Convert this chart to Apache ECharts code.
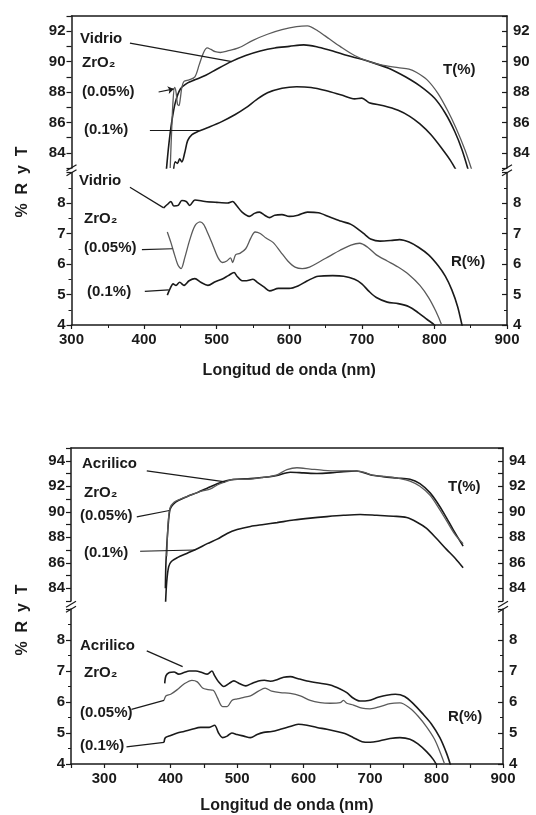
<!DOCTYPE html>
<html>
<head>
<meta charset="utf-8">
<script src="https://cdn.jsdelivr.net/npm/echarts@6/dist/echarts.min.js"></script>
<style>
  html, body { margin: 0; padding: 0; background: #fff; }
  #chart { width: 536px; height: 815px; }
</style>
</head>
<body>
<div id="chart"></div>
<script>
// ---- datos (nm, %) ----
var vidrioT = [[430,82.5],[434,84.5],[438,86.0],[443,87.3],[450,88.2],[460,88.6],[470,88.8],[485,89.1],[500,89.5],[520,90.0],[540,90.4],[560,90.7],[580,90.9],[600,91.0],[620,91.1],[640,90.95],[660,90.7],[680,90.4],[700,90.15],[720,89.85],[740,89.5],[760,89.0],[780,88.4],[800,87.6],[815,86.6],[828,85.4],[838,84.2],[847,82.8]]
var vidrio005T = [[436,83.0],[438,85.5],[440,87.5],[442,88.3],[444,88.0],[446,87.2],[448,87.1],[450,87.6],[452,88.3],[455,88.7],[462,88.8],[470,89.0],[476,89.8],[482,90.6],[487,90.9],[492,90.8],[498,90.65],[505,90.6],[515,90.7],[530,90.9],[550,91.4],[570,91.8],[590,92.1],[610,92.3],[625,92.35],[640,92.0],[655,91.5],[670,91.0],[690,90.4],[710,90.0],[730,89.75],[750,89.6],[765,89.5],[775,89.3],[790,88.8],[805,87.9],[818,86.8],[830,85.6],[842,84.2],[852,82.8]]
var vidrio01T = [[440,82.6],[443,83.4],[446,83.3],[449,83.6],[452,83.4],[456,84.0],[460,84.8],[466,85.2],[474,85.4],[490,85.7],[507,86.05],[525,86.5],[540,86.95],[555,87.5],[570,87.95],[590,88.25],[610,88.35],[630,88.3],[650,88.1],[672,87.8],[690,87.55],[700,87.6],[710,87.3],[730,87.1],[750,86.8],[766,86.4],[780,85.9],[795,85.2],[810,84.3],[822,83.5],[833,82.6]]

var vidrioR = [[427,7.84],[432,7.95],[437,8.05],[441,7.9],[447,7.92],[452,8.08],[458,8.05],[463,7.92],[470,8.1],[484,8.05],[500,8.02],[515,8.0],[522,8.05],[528,7.9],[535,7.7],[545,7.56],[552,7.66],[559,7.7],[566,7.6],[573,7.52],[580,7.6],[590,7.62],[600,7.56],[612,7.6],[625,7.7],[640,7.68],[655,7.55],[672,7.4],[685,7.3],[696,7.12],[705,6.95],[712,6.82],[725,6.75],[740,6.77],[752,6.8],[765,6.72],[778,6.55],[792,6.3],[805,5.95],[815,5.6],[824,5.15],[832,4.6],[838,4.0],[842,3.6]]
var vidrio005R = [[432,7.05],[437,6.7],[442,6.3],[447,5.95],[451,5.85],[456,6.2],[463,6.8],[470,7.25],[477,7.38],[482,7.3],[488,7.0],[495,6.6],[502,6.2],[508,6.05],[514,6.1],[519,6.2],[522,6.05],[526,6.3],[532,6.35],[540,6.5],[547,6.85],[553,7.05],[560,7.0],[568,6.85],[578,6.7],[588,6.4],[598,6.1],[608,5.9],[618,5.85],[628,5.9],[640,6.05],[655,6.25],[670,6.45],[685,6.62],[697,6.68],[708,6.55],[720,6.3],[735,6.1],[750,5.9],[765,5.65],[780,5.3],[792,4.9],[802,4.45],[810,4.0],[814,3.7]]
var vidrio01R = [[432,4.98],[436,5.2],[440,5.35],[444,5.3],[449,5.4],[455,5.3],[462,5.45],[470,5.52],[478,5.4],[488,5.3],[498,5.42],[507,5.5],[516,5.62],[524,5.72],[528,5.6],[535,5.45],[541,5.45],[550,5.5],[556,5.4],[565,5.25],[573,5.12],[585,5.2],[600,5.2],[612,5.28],[625,5.45],[640,5.6],[660,5.62],[675,5.6],[690,5.5],[700,5.35],[710,5.1],[720,4.9],[735,4.75],[750,4.7],[765,4.6],[778,4.4],[790,4.18],[800,4.0],[804,3.85]]

var acrilicoT = [[392,84.0],[393,86.2],[396,88.8],[399,90.2],[404,90.6],[412,90.9],[425,91.2],[440,91.5],[455,91.85],[470,92.2],[485,92.45],[500,92.55],[520,92.6],[540,92.7],[560,92.85],[580,93.1],[600,93.05],[620,93.0],[640,93.05],[660,93.15],[680,93.2],[700,92.9],[720,92.75],[740,92.65],[760,92.55],[775,92.2],[790,91.5],[800,90.8],[812,89.8],[825,88.6],[840,87.3]]
var acrilico005T = [[394,86.5],[396,89.0],[399,90.3],[405,90.75],[415,91.0],[430,91.3],[445,91.6],[460,91.8],[470,92.1],[482,92.35],[495,92.55],[515,92.55],[540,92.7],[560,92.9],[575,93.3],[590,93.45],[610,93.35],[630,93.25],[650,93.2],[670,93.2],[690,93.1],[705,92.85],[725,92.75],[745,92.6],[760,92.4],[775,92.0],[790,91.3],[802,90.4],[815,89.3],[828,88.2],[840,87.5]]
var acrilico01T = [[392,82.5],[394,84.5],[397,85.7],[401,86.1],[410,86.4],[425,86.75],[440,87.1],[455,87.5],[470,87.85],[485,88.3],[500,88.6],[520,88.85],[540,89.0],[560,89.15],[585,89.35],[610,89.5],[635,89.62],[660,89.72],[685,89.78],[710,89.72],[735,89.65],[755,89.55],[770,89.2],[785,88.7],[800,87.9],[815,87.05],[828,86.35],[840,85.6]]

var acrilicoR = [[391,6.6],[393,6.85],[398,6.95],[405,6.97],[412,6.9],[420,6.95],[428,7.0],[438,7.0],[447,6.95],[455,6.9],[462,7.0],[466,6.85],[472,6.65],[480,6.5],[488,6.6],[495,6.68],[503,6.6],[513,6.52],[522,6.6],[532,6.68],[541,6.7],[550,6.67],[560,6.72],[570,6.8],[580,6.82],[592,6.75],[605,6.68],[620,6.62],[640,6.55],[655,6.42],[665,6.3],[675,6.12],[685,6.03],[698,6.05],[712,6.15],[725,6.22],[738,6.25],[752,6.18],[765,5.95],[778,5.65],[792,5.3],[805,4.85],[815,4.35],[822,3.9]]
var acrilico005R = [[390,6.05],[393,6.2],[400,6.25],[410,6.4],[420,6.58],[432,6.7],[440,6.65],[448,6.45],[456,6.4],[464,6.38],[470,6.15],[478,5.85],[485,5.85],[492,6.05],[500,6.1],[510,6.15],[520,6.2],[532,6.35],[542,6.45],[552,6.35],[565,6.3],[580,6.28],[595,6.2],[610,6.05],[625,5.98],[640,5.96],[655,5.98],[660,6.05],[665,5.96],[675,5.9],[688,5.8],[700,5.78],[715,5.85],[730,5.95],[745,5.97],[760,5.8],[772,5.55],[785,5.2],[797,4.8],[806,4.35],[813,3.95]]
var acrilico01R = [[390,4.7],[392,4.85],[400,4.92],[410,5.0],[420,5.05],[432,5.12],[445,5.18],[458,5.18],[466,5.25],[472,5.0],[478,4.85],[485,4.9],[492,5.0],[500,4.95],[510,4.9],[520,4.85],[530,4.95],[540,5.02],[552,5.05],[565,5.12],[578,5.2],[592,5.28],[605,5.25],[620,5.18],[635,5.12],[650,5.05],[662,4.98],[675,4.85],[688,4.72],[700,4.7],[715,4.75],[730,4.82],[745,4.85],[760,4.8],[772,4.65],[785,4.4],[795,4.15],[802,3.9]]

// ejes
var xRange1 = [300, 900]
var xRange2 = [250, 900]
var tRange1 = [83, 93]
var tRange2 = [83, 95]
var rRange = [4, 9]

var FONT = '"Liberation Sans", Arial, Helvetica, sans-serif'
var INK = '#1a1a1a'
var GREY = '#5a5a5a'

// grids: panel superior (T, R) y panel inferior (T, R)
var grids = [
  { left: 71.5, right: 29, top: 16, height: 152 },
  { left: 71.5, right: 29, top: 172.5, height: 152.5 },
  { left: 71, right: 33, top: 448, height: 153 },
  { left: 71, right: 33, top: 609, height: 155 }
]

function topX(gi, range) {
  return {
    type: 'value', gridIndex: gi, position: 'top', min: range[0], max: range[1],
    axisLine: { show: true, lineStyle: { color: INK, width: 1.5 } },
    axisTick: { show: false }, axisLabel: { show: false }, splitLine: { show: false }
  }
}
function bottomX(gi, range, interval, nameGap) {
  return {
    type: 'value', gridIndex: gi, position: 'bottom', min: range[0], max: range[1], interval: interval,
    name: 'Longitud de onda (nm)', nameLocation: 'middle', nameGap: nameGap,
    nameTextStyle: { fontFamily: FONT, fontWeight: 'bold', fontSize: 16, color: INK },
    axisLine: { show: true, lineStyle: { color: INK, width: 1.5 } },
    axisTick: { show: true, length: 4, lineStyle: { color: INK, width: 1.2 } },
    minorTick: { show: interval === 100, splitNumber: 2, length: 3, lineStyle: { color: INK } },
    axisLabel: {
      fontFamily: FONT, fontWeight: 'bold', fontSize: 15, color: INK, margin: 7,
      showMinLabel: true, showMaxLabel: true,
      formatter: function (v) { return v % 100 === 0 ? v : '' }
    },
    splitLine: { show: false }
  }
}
function yPair(gi, range, step) {
  var base = {
    type: 'value', gridIndex: gi, min: range[0], max: range[1], interval: 1,
    axisLine: { show: true, lineStyle: { color: INK, width: 1.5 } },
    axisTick: { show: true, length: 5, lineStyle: { color: INK, width: 1.2 } },
    minorTick: { show: step === 1, splitNumber: 2, length: 3, lineStyle: { color: INK } },
    splitLine: { show: false },
    axisLabel: {
      fontFamily: FONT, fontWeight: 'bold', fontSize: 15, color: INK, margin: 6,
      formatter: function (v) {
        if (step === 2) return v % 2 === 0 ? v : ''
        return v <= 8 ? v : ''
      }
    }
  }
  var left = echarts.util.merge({ position: 'left' }, base, true)
  var right = echarts.util.merge({ position: 'right' }, base, true)
  left.axisLabel.formatter = base.axisLabel.formatter
  right.axisLabel.formatter = base.axisLabel.formatter
  right.axisTick.inside = true
  right.minorTick.length = 3
  return [left, right]
}

var yAxes = [].concat(
  yPair(0, tRange1, 2), yPair(1, rRange, 1),
  yPair(2, tRange2, 2), yPair(3, rRange, 1)
)

function leader(from, to, arrow) {
  return {
    silent: true, animation: false,
    symbol: ['none', arrow ? 'arrow' : 'none'], symbolSize: 6,
    label: { show: false },
    lineStyle: { color: INK, width: 1.2, type: 'solid' },
    emphasis: { disabled: true },
    data: [[{ coord: from }, { coord: to }]]
  }
}

function curve(data, gi, color, width, ml) {
  var s = {
    type: 'line', data: data, xAxisIndex: gi, yAxisIndex: gi * 2,
    showSymbol: false, symbol: 'none', smooth: 0.3, clip: true,
    lineStyle: { color: color, width: width }, silent: true
  }
  if (ml) s.markLine = ml
  return s
}

var series = [
  curve(vidrioT, 0, INK, 1.6, leader([380.5, 91.22], [521, 90.0])),
  curve(vidrio005T, 0, GREY, 1.3, leader([420, 88.0], [441, 88.2], true)),
  curve(vidrio01T, 0, INK, 1.6, leader([408, 85.46], [477, 85.46])),
  curve(vidrioR, 1, INK, 1.6, leader([380.5, 8.52], [427, 7.84])),
  curve(vidrio005R, 1, GREY, 1.3, leader([397, 6.47], [439, 6.5])),
  curve(vidrio01R, 1, INK, 1.6, leader([401, 5.1], [434, 5.15])),
  curve(acrilicoT, 2, INK, 1.6, leader([364, 93.2], [482, 92.35])),
  curve(acrilico005T, 2, GREY, 1.3, leader([349, 89.6], [398, 90.1])),
  curve(acrilico01T, 2, INK, 1.6, leader([354, 86.9], [437, 87.0])),
  curve(acrilicoR, 3, INK, 1.6, leader([364, 7.65], [418, 7.14])),
  curve(acrilico005R, 3, GREY, 1.3, leader([341, 5.76], [390, 6.05])),
  curve(acrilico01R, 3, INK, 1.6, leader([333.5, 4.55], [390, 4.7]))
]

// textos
function txt(s, x, y) {
  return {
    type: 'text', x: x, y: y, silent: true,
    style: { text: s, font: 'bold 15px ' + FONT, fill: INK, align: 'left', verticalAlign: 'middle' }
  }
}
var labels = [
  txt('Vidrio', 80, 39), txt('ZrO₂', 82, 63), txt('(0.05%)', 82, 92), txt('(0.1%)', 84, 130), txt('T(%)', 443, 70),
  txt('Vidrio', 79, 181), txt('ZrO₂', 84, 219), txt('(0.05%)', 84, 248), txt('(0.1%)', 87, 292), txt('R(%)', 451, 262),
  txt('Acrilico', 82, 464), txt('ZrO₂', 84, 493), txt('(0.05%)', 80, 516), txt('(0.1%)', 84, 553), txt('T(%)', 448, 487),
  txt('Acrilico', 80, 646), txt('ZrO₂', 84, 673), txt('(0.05%)', 80, 713), txt('(0.1%)', 80, 746), txt('R(%)', 448, 717)
]
function yName(yc) {
  return {
    type: 'text', x: 23, y: yc, rotation: Math.PI / 2, silent: true,
    style: { text: '%  R  y  T', font: 'bold 16px ' + FONT, fill: INK, align: 'center', verticalAlign: 'middle' }
  }
}
labels.push(yName(182), yName(620))

// marcas de corte del eje
function breakMarks(g) {
  var yc = g.top - 2.2
  var xs = [g.left, 536 - g.right]
  var out = []
  xs.forEach(function (x) {
    out.push({ type: 'rect', shape: { x: x - 4, y: yc - 3, width: 8, height: 6 }, style: { fill: '#fff' }, silent: true })
    ;[-2.5, 2.5].forEach(function (d) {
      out.push({
        type: 'line', silent: true,
        shape: { x1: x - 5, y1: yc + d + 3, x2: x + 5, y2: yc + d - 3 },
        style: { stroke: INK, lineWidth: 1.2 }
      })
    })
  })
  return out
}
labels = labels.concat(breakMarks(grids[1]), breakMarks(grids[3]))

var option = {
  animation: false,
  backgroundColor: '#fff',
  grid: grids,
  xAxis: [topX(0, xRange1), bottomX(1, xRange1, 100, 38), topX(2, xRange2), bottomX(3, xRange2, 50, 34)],
  yAxis: yAxes,
  series: series,
  graphic: labels
}

var myChart = echarts.init(document.getElementById('chart'))
myChart.setOption(option)
</script>
</body>
</html>
